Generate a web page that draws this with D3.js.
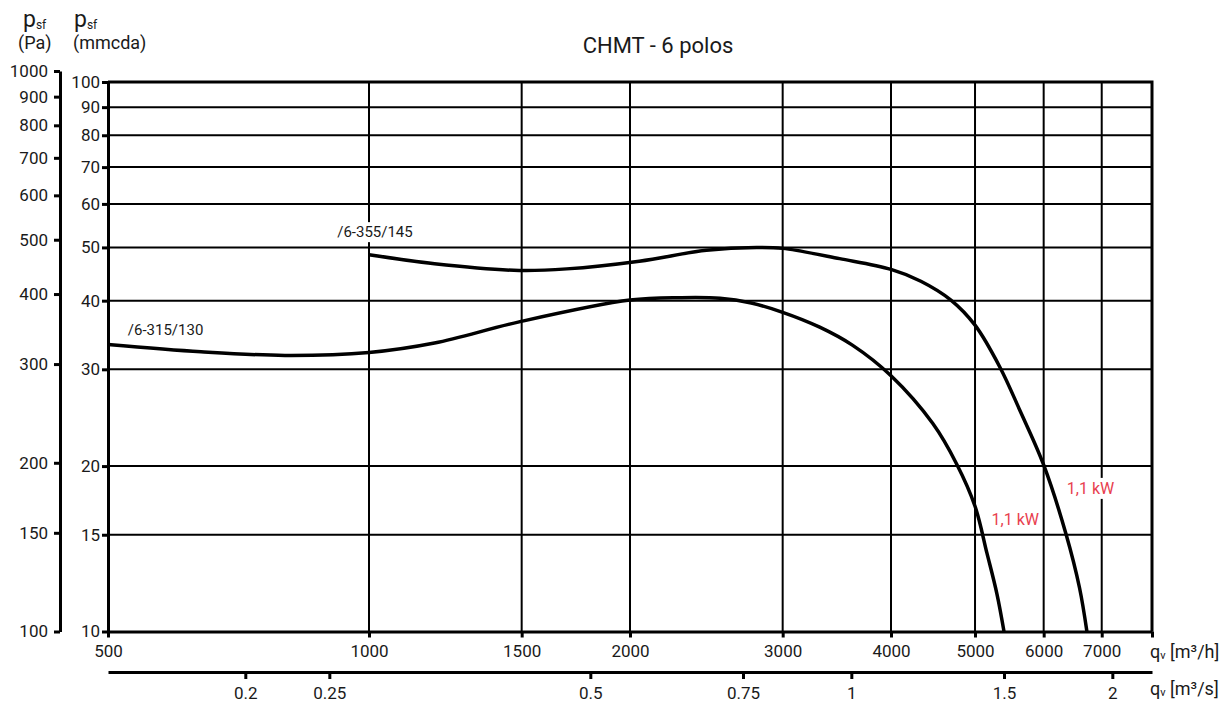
<!DOCTYPE html>
<html>
<head>
<meta charset="utf-8">
<script src="https://cdn.jsdelivr.net/npm/d3@7"></script>
<style>
  body { margin: 0; background: #fff; }
  text { font-family: Roboto, "DejaVu Sans", sans-serif; fill: #1a1a1a; }
  .axis path, .axis line { stroke: #000; }
</style>
</head>
<body>
<div id="chart"></div>
<script>
// chart values (flow in m3/h, pressure in mmcda)
const title = "CHMT - 6 polos"
const qvTicks = [500, 1000, 1500, 2000, 3000, 4000, 5000, 6000, 7000, 8000]
const qvGrid = [1000, 1500, 2000, 3000, 4000, 5000, 6000, 7000]
const qsTicks = [0.2, 0.25, 0.5, 0.75, 1, 1.5, 2]
const mmTicks = [10, 15, 20, 30, 40, 50, 60, 70, 80, 90, 100]
const mmGrid = [15, 20, 30, 40, 50, 60, 70, 80, 90]
const paTicks = [100, 150, 200, 300, 400, 500, 600, 700, 800, 900, 1000]

const fan315 = [
  [500, 33.3], [640, 32.3], [800, 31.8], [1000, 32.2], [1190, 33.5], [1490, 36.6],
  [2000, 40.1], [2290, 40.5], [2540, 40.4], [2760, 39.6], [3000, 38.1], [3310, 35.8],
  [3610, 33.2], [4000, 29.2], [4470, 23.9], [4760, 20.2], [5000, 16.9], [5160, 13.9],
  [5300, 11.7], [5400, 10]
]
const fan355 = [
  [1000, 48.5], [1190, 46.7], [1490, 45.4], [1690, 45.7], [2050, 47.2], [2450, 49.4],
  [2800, 50.0], [3000, 49.8], [3490, 47.7], [4000, 45.6], [4330, 43.4], [4690, 40.1],
  [5000, 36.1], [5340, 30.3], [5630, 25.3], [6000, 20.1], [6370, 15.0], [6600, 12.0], [6730, 10]
]
// curve labels: text, anchor flow, anchor pressure (baseline), colour
const notes = [
  {text: "/6-315/130", q: 527, p: 34.7, color: "#1a1a1a", size: 15},
  {text: "/6-355/145", q: 919, p: 52.2, color: "#1a1a1a", size: 15},
  {text: "1,1 kW", q: 5225, p: 15.6, color: "#e8404e", size: 16},
  {text: "1,1 kW", q: 6380, p: 17.8, color: "#e8404e", size: 16}
]

let svg = d3.select("#chart").append("svg")
  .attr("width", 1227).attr("height", 702)

svg.append("rect").attr("width", 1227).attr("height", 702).attr("fill", "#fff")

// scales
let x = d3.scaleLog().domain([500, 8000]).range([108, 1152])
let xs = d3.scaleLog().domain([500 / 3600, 8000 / 3600]).range([108, 1152])
let y = d3.scaleLog().domain([10, 100]).range([631.5, 82])
let yPa = d3.scaleLog().domain([100, 1000]).range([631.5, 71])

// grid
svg.selectAll(".vgrid").data(qvGrid).enter().append("line")
  .attr("class", "vgrid")
  .attr("x1", d => x(d)).attr("x2", d => x(d))
  .attr("y1", y(10)).attr("y2", y(100))
  .attr("stroke", "#000").attr("stroke-width", 2)

svg.selectAll(".hgrid").data(mmGrid).enter().append("line")
  .attr("class", "hgrid")
  .attr("x1", x(500)).attr("x2", x(8000))
  .attr("y1", d => y(d)).attr("y2", d => y(d))
  .attr("stroke", "#000").attr("stroke-width", 2)

// top and right frame
svg.append("path")
  .attr("d", `M${x(500)},${y(100)}H${x(8000)}V${y(10)}`)
  .attr("fill", "none").attr("stroke", "#000").attr("stroke-width", 3)

// axes
function styleAxis(g, size) {
  g.attr("class", "axis")
  g.select(".domain").attr("stroke-width", 3)
  g.selectAll(".tick line").attr("stroke-width", 3)
  g.selectAll(".tick text").attr("font-size", size).attr("fill", "#1a1a1a")
    .attr("font-family", "Roboto, sans-serif")
}

svg.append("g").attr("transform", `translate(0,${y(10)})`)
  .call(d3.axisBottom(x).tickValues(qvTicks).tickSize(6).tickSizeOuter(0).tickPadding(7)
    .tickFormat(d => d === 8000 ? "" : String(d)))
  .call(g => styleAxis(g, 17))

svg.append("g").attr("transform", "translate(0,672)")
  .call(d3.axisBottom(xs).tickValues(qsTicks).tickSize(7).tickSizeOuter(0).tickPadding(8)
    .tickFormat(d => String(d)))
  .call(g => styleAxis(g, 17))

svg.append("g").attr("transform", `translate(${x(500)},0)`)
  .call(d3.axisLeft(y).tickValues(mmTicks).tickSize(6).tickSizeOuter(0).tickPadding(2)
    .tickFormat(d => String(d)))
  .call(g => styleAxis(g, 17))

svg.append("g").attr("transform", "translate(60,0)")
  .call(d3.axisLeft(yPa).tickValues(paTicks).tickSize(6).tickSizeOuter(0).tickPadding(6)
    .tickFormat(d => String(d)))
  .call(g => styleAxis(g, 17))

// fan curves
let line = d3.line()
  .x(d => x(d[0]))
  .y(d => y(d[1]))
  .curve(d3.curveCatmullRom.alpha(0.5))

svg.selectAll(".curve").data([fan315, fan355]).enter().append("path")
  .attr("class", "curve")
  .attr("d", line)
  .attr("fill", "none").attr("stroke", "#000").attr("stroke-width", 3.5)
  .attr("stroke-linejoin", "round")

// curve labels with white backing
let noteG = svg.selectAll(".note").data(notes).enter().append("g").attr("class", "note")
noteG.append("text")
  .attr("x", d => x(d.q)).attr("y", d => y(d.p))
  .attr("font-size", d => d.size)
  .style("fill", d => d.color)
  .text(d => d.text)
noteG.each(function () {
  let bb = d3.select(this).select("text").node().getBBox()
  d3.select(this).insert("rect", "text")
    .attr("x", bb.x - 2).attr("y", bb.y - 1)
    .attr("width", bb.width + 4).attr("height", bb.height + 2)
    .attr("fill", "#fff")
})

// title
svg.append("text").attr("x", 658).attr("y", 53)
  .attr("text-anchor", "middle").attr("font-size", 22)
  .text(title)

// axis titles
function psf(xp) {
  let t = svg.append("text").attr("x", xp).attr("y", 27).attr("font-size", 23)
  t.append("tspan").text("p")
  t.append("tspan").attr("font-size", 12).attr("dy", 2).text("sf")
}
psf(23)
psf(74)
svg.append("text").attr("x", 18).attr("y", 49).attr("font-size", 18).text("(Pa)")
svg.append("text").attr("x", 73).attr("y", 49).attr("font-size", 18).text("(mmcda)")

function qv(yp, unit) {
  let t = svg.append("text").attr("x", 1150).attr("y", yp).attr("font-size", 18)
  t.append("tspan").text("q")
  t.append("tspan").attr("font-size", 11).attr("dy", 1).text("v")
  t.append("tspan").attr("dy", -1).text(" [" + unit + "]")
}
qv(658, "m³/h")
qv(695, "m³/s")
</script>
</body>
</html>
